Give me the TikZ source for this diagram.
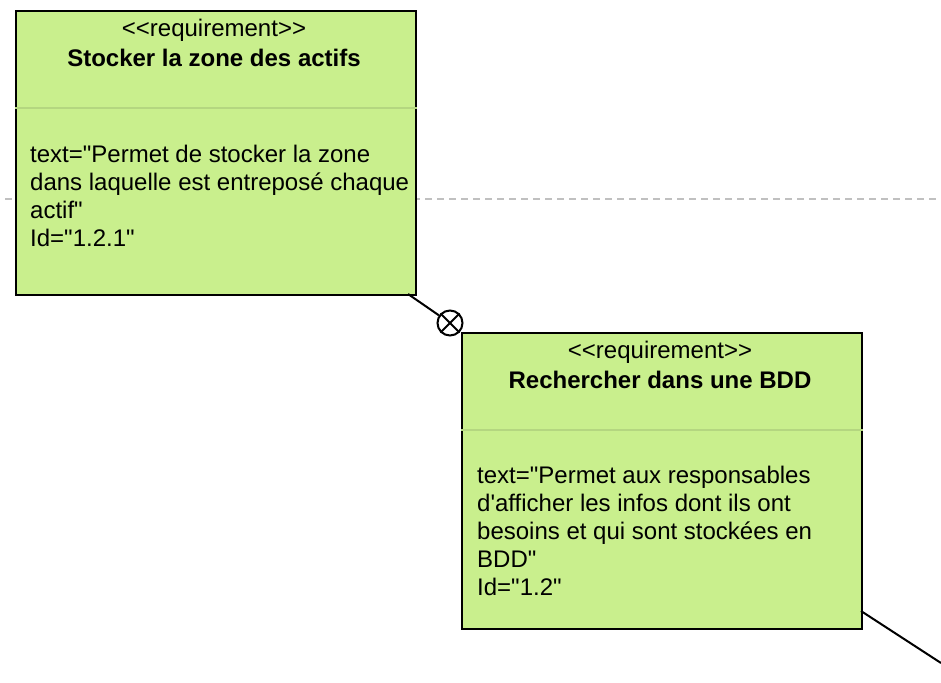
\documentclass[tikz,border=0pt]{standalone}
\usepackage{fontspec}
\setmainfont{Liberation Sans}[Ligatures=TeXOff]
\definecolor{reqfill}{RGB}{201,239,141}
\definecolor{sepline}{RGB}{180,214,128}
\definecolor{dashgray}{RGB}{192,192,192}
\begin{document}
\begin{tikzpicture}[x=1pt,y=-1pt,
  reqbox/.style={draw=black,line width=2pt,fill=reqfill,anchor=north west,minimum width=400pt,inner sep=0pt},
  txt/.style={inner sep=0pt,font=\fontsize{24}{28}\selectfont},
  sep/.style={draw=sepline,line width=1.5pt},
  conn/.style={draw=black,line width=2pt},
  contain/.style={circle,draw=black,line width=2pt,minimum size=25pt,inner sep=0pt,fill=white}]
\useasboundingbox (0,0) rectangle (941,682);
% dashed separator line
\draw[dashgray,line width=1.5pt,dash pattern=on 7pt off 5pt] (5,199) -- (941,199);
% box 1
\node[reqbox,minimum height=284pt] (b1) at (15,10) {};
\draw[sep] ([yshift=-98pt]b1.north west) -- ([yshift=-98pt]b1.north east);
\node[txt,anchor=base] (s1) at (214,37) {<{}<requirement>{}>};
\node[txt,anchor=base,font=\fontsize{24}{28}\selectfont\bfseries] (t1) at (214,67) {Stocker la zone des actifs};
\node[txt,anchor=north west,align=left] (d1) at (30,145) {text="Permet de stocker la zone\\dans laquelle est entreposé chaque\\actif"\\Id="1.2.1"};
% box 2
\node[reqbox,minimum height=296pt] (b2) at (461,332) {};
\draw[sep] ([yshift=-98pt]b2.north west) -- ([yshift=-98pt]b2.north east);
\node[txt,anchor=base] (s2) at (660,358) {<{}<requirement>{}>};
\node[txt,anchor=base,font=\fontsize{24}{28}\selectfont\bfseries] (t2) at (660,388) {Rechercher dans une BDD};
\node[txt,anchor=north west,align=left] (d2) at (477,466) {text="Permet aux responsables\\d'afficher les infos dont ils ont\\besoins et qui sont stockées en\\BDD"\\Id="1.2"};
% containment connector
\coordinate (p1) at (408,294);
\node[contain] (c) at (450,323) {};
\draw[conn] (p1) -- (c);
\draw[conn] (c.north west) -- (c.south east);
\draw[conn] (c.south west) -- (c.north east);
% outgoing connector
\coordinate (p2) at (861,611);
\coordinate (e2) at (941,663);
\draw[conn] (p2) -- (e2);
\end{tikzpicture}
\end{document}
